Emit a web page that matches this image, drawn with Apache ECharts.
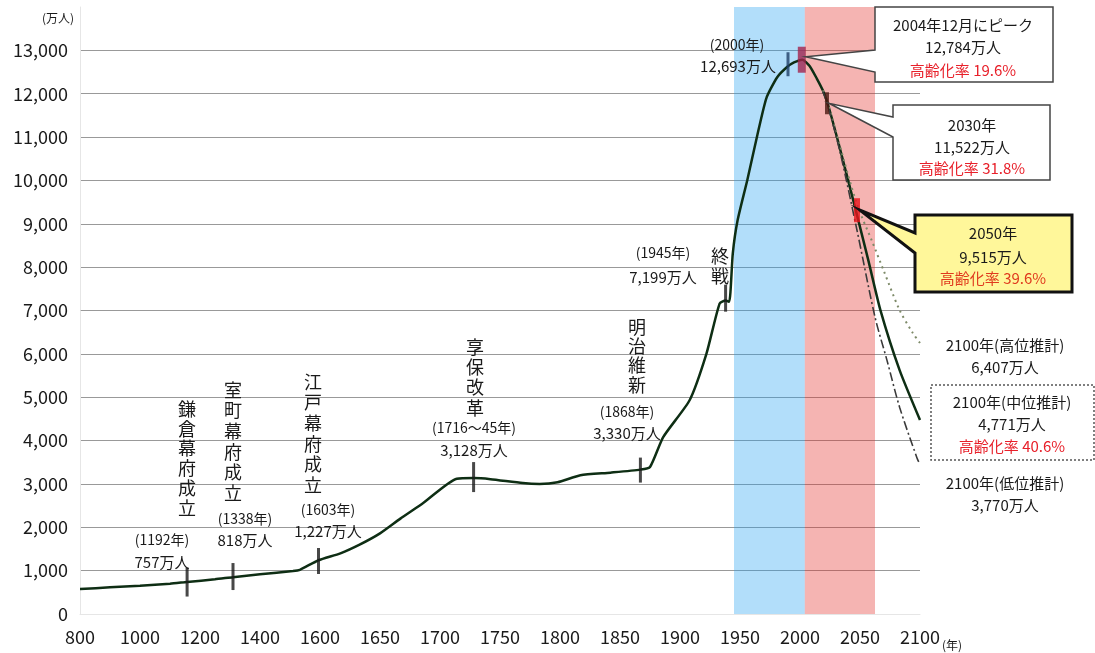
<!DOCTYPE html>
<html>
<head>
<meta charset="utf-8">
<script src="https://cdn.jsdelivr.net/npm/echarts@6/dist/echarts.min.js"></script>
<style>
html, body { margin: 0; padding: 0; background: #fff; }
#main { width: 1095px; height: 653px; }
</style>
</head>
<body>
<div id="main"></div>
<script>
// x軸の目盛り（等間隔に並ぶが年の幅は不揃い）
var xTickYears = [800, 1000, 1200, 1400, 1600, 1650, 1700, 1750, 1800, 1850, 1900, 1950, 2000, 2050, 2100];

// 実績（万人）
var histYears  = [800, 900, 1000, 1100, 1157, 1250, 1310, 1400, 1510, 1533, 1595, 1617, 1633, 1650, 1667, 1686, 1714, 1728, 1742, 1769, 1783, 1798, 1817, 1842, 1867, 1875, 1886, 1908, 1922, 1933, 1938, 1941, 1944, 1948, 1956, 1964, 1972, 1981, 1989, 1995, 2002];
var histValues = [576, 615, 650, 700, 740, 800, 850, 915, 990, 1020, 1240, 1400, 1600, 1860, 2200, 2560, 3120, 3135, 3110, 3020, 3000, 3040, 3200, 3260, 3330, 3390, 4080, 4930, 6000, 7160, 7230, 7200, 8320, 9080, 10000, 10990, 11900, 12380, 12610, 12720, 12784];

// 将来推計（中位・高位・低位）
var midYears   = [2002, 2008, 2014, 2019, 2023, 2033, 2047.5, 2057, 2067, 2083, 2100];
var midValues  = [12784, 12640, 12350, 12078, 11780, 10765, 9200, 8150, 7008, 5624, 4472];
var highYears  = [2019, 2023, 2033, 2047.5, 2060, 2070, 2083, 2094, 2100];
var highValues = [12078, 11800, 10820, 9450, 8600, 7900, 7010, 6480, 6250];
var lowYears   = [2019, 2023, 2033, 2047.5, 2062.5, 2072.5, 2083, 2097.5, 2100];
var lowValues  = [12050, 11740, 10700, 8850, 6850, 5850, 4770, 3600, 3450];

// 節目の目印（図上の位置）
var markYears  = [1157, 1310, 1595, 1728, 1867, 1938, 1990, 2001.5, 2022.5, 2047.5];
var markValues = [737, 864, 1222, 3158, 3319, 7284, 12680, 12784, 11780, 9313];
var markColors = ['#1a1a1a', '#1a1a1a', '#1a1a1a', '#1a1a1a', '#1a1a1a', '#1a1a1a', '#1f3f66', '#a3234c', '#4a1a12', '#e8141c'];
var markSizes  = [[3, 29], [3, 27], [3, 26], [3, 30], [3, 25], [3, 27], [3, 24], [8, 26], [4, 22], [6, 24]];

// 背景の帯
var bandFrom   = [1945, 2004];
var bandTo     = [2004, 2062.5];
var bandColors = ['rgba(35,161,241,0.35)', 'rgba(226,41,35,0.35)'];

var FONT = '"Noto Sans CJK JP", "Noto Sans", sans-serif';

function yearToPos(y){
    for (var i = 0; i < xTickYears.length - 1; i++){
        if (y <= xTickYears[i + 1]){
            return i + (y - xTickYears[i]) / (xTickYears[i + 1] - xTickYears[i]);
        }
    }
    return xTickYears.length - 1;
}
function pairs(years, values){
    return years.map(function(y, i){ return [yearToPos(y), values[i]]; });
}
function fmt(v){
    return String(v).replace(/\B(?=(\d{3})+(?!\d))/g, ',');
}

var chart = echarts.init(document.getElementById('main'));

var option = {
    animation: false,
    backgroundColor: '#fff',
    grid: { left: 80, right: 175, top: 7, bottom: 39 },
    xAxis: {
        type: 'value',
        min: 0, max: 14, interval: 1,
        axisLine: { show: true, lineStyle: { color: '#e6e6e6' } },
        axisTick: { show: false },
        splitLine: { show: false },
        axisLabel: {
            margin: 14,
            color: '#1a1a1a',
            fontSize: 18,
            fontFamily: FONT,
            formatter: function(v){ return xTickYears[v]; }
        }
    },
    yAxis: {
        type: 'value',
        min: 0, max: 14000, interval: 1000,
        axisLine: { show: true, lineStyle: { color: '#e6e6e6' } },
        axisTick: { show: false },
        splitLine: {
            show: true, showMinLine: false, showMaxLine: false,
            lineStyle: { color: '#999', width: 1 }
        },
        axisLabel: {
            margin: 12,
            color: '#1a1a1a',
            fontSize: 18,
            fontFamily: FONT,
            formatter: function(v){ return v > 13000 ? '' : fmt(v); }
        }
    },
    series: [
        {
            name: '実績・中位推計',
            type: 'line',
            z: 2,
            symbol: 'none',
            smooth: 0.2,
            lineStyle: { color: '#0e2e14', width: 2.5 },
            data: pairs(histYears, histValues).concat(pairs(midYears, midValues).slice(1))
        },
        {
            name: '高位推計',
            type: 'line',
            z: 2,
            symbol: 'none',
            smooth: 0.3,
            lineStyle: { color: '#7d8a68', width: 2, type: [2, 4] },
            data: pairs(highYears, highValues)
        },
        {
            name: '低位推計',
            type: 'line',
            z: 2,
            symbol: 'none',
            smooth: 0.3,
            lineStyle: { color: '#3a3a3a', width: 1.6, type: [9, 3, 2, 3] },
            data: pairs(lowYears, lowValues)
        },
        {
            name: 'band',
            type: 'line',
            z: 3,
            silent: true,
            data: [],
            markArea: {
                silent: true,
                data: bandFrom.map(function(f, i){
                    return [
                        { xAxis: yearToPos(f), itemStyle: { color: bandColors[i] } },
                        { xAxis: yearToPos(bandTo[i]) }
                    ];
                })
            }
        },
        {
            name: 'marks',
            type: 'scatter',
            z: 4,
            symbol: 'rect',
            data: markYears.map(function(y, i){
                return {
                    value: [yearToPos(y), markValues[i]],
                    symbolSize: markSizes[i],
                    itemStyle: { color: markColors[i] }
                };
            })
        }
    ]
};
chart.setOption(option);

// ---- 注記 ----
function txt(x, y, s, size, color){
    return {
        type: 'text', z: 20, x: x, y: y,
        style: { text: s, fill: color || '#1a1a1a', font: size + 'px ' + FONT, textAlign: 'center', textVerticalAlign: 'middle' }
    };
}
function vtxt(x, yFirst, s, size, step){
    return {
        type: 'text', z: 20, x: x, y: yFirst - step / 2,
        style: { text: s.split('').join('\n'), fill: '#1a1a1a', font: size + 'px ' + FONT, lineHeight: step, textAlign: 'center', textVerticalAlign: 'top' }
    };
}
function callout(box, by1, by2, tip, style){
    var l = box[0], t = box[1], r = box[2], b = box[3];
    return {
        type: 'polygon', z: 15,
        shape: { points: [[l, t], [r, t], [r, b], [l, b], [l, by2], tip, [l, by1]] },
        style: style
    };
}
function markPx(i, dx, dy){
    var p = chart.convertToPixel({ gridIndex: 0 }, [yearToPos(markYears[i]), markValues[i]]);
    return [p[0] + dx, p[1] + dy];
}

var RED = '#e8202a';
var g = [
    txt(58, 18, '(万人)', 12),
    txt(952, 645, '(年)', 12),

    txt(162, 540, '(1192年)', 14), txt(162, 562, '757万人', 15),
    vtxt(187, 409, '鎌倉幕府成立', 18, 19.8),
    txt(245, 519, '(1338年)', 14), txt(245, 540, '818万人', 15),
    vtxt(233, 390, '室町幕府成立', 18, 20.6),
    txt(328, 510, '(1603年)', 14), txt(328, 531, '1,227万人', 15),
    vtxt(313, 382, '江戸幕府成立', 18, 20.6),
    vtxt(475, 347, '享保改革', 18, 20.3),
    txt(474, 428, '(1716～45年)', 14), txt(474, 450, '3,128万人', 15),
    vtxt(637, 327, '明治維新', 18, 19.3),
    txt(627, 412, '(1868年)', 14), txt(627, 433, '3,330万人', 15),
    txt(663, 253, '(1945年)', 14), txt(663, 277, '7,199万人', 15),
    vtxt(720, 256, '終戦', 18, 20),
    txt(737, 45, '(2000年)', 14), txt(738, 66, '12,693万人', 15),

    callout([875, 7, 1053, 82], 50, 72, markPx(7, 4, -3), { fill: '#fff', stroke: '#444', lineWidth: 1.5 }),
    txt(963, 25, '2004年12月にピーク', 15), txt(963, 47, '12,784万人', 15), txt(963, 70, '高齢化率 19.6%', 15, RED),

    callout([893, 105, 1050, 180], 117, 137, markPx(8, 2, 0), { fill: '#fff', stroke: '#444', lineWidth: 1.5 }),
    txt(972, 125, '2030年', 15), txt(972, 147, '11,522万人', 15), txt(972, 168, '高齢化率 31.8%', 15, RED),

    callout([915, 215, 1072, 292], 233, 253, markPx(9, 3, 0), { fill: '#fff79a', stroke: '#111', lineWidth: 3, lineJoin: 'miter' }),
    txt(993, 233, '2050年', 15), txt(993, 257, '9,515万人', 15), txt(993, 278, '高齢化率 39.6%', 15, '#e03a1e'),

    txt(1005, 345, '2100年(高位推計)', 15), txt(1005, 367, '6,407万人', 15),
    { type: 'rect', z: 15, shape: { x: 931, y: 385, width: 163, height: 75 }, style: { fill: '#fff', stroke: '#555', lineWidth: 1.5, lineDash: [2, 2] } },
    txt(1012, 402, '2100年(中位推計)', 15), txt(1012, 424, '4,771万人', 15), txt(1012, 446, '高齢化率 40.6%', 15, RED),
    txt(1005, 483, '2100年(低位推計)', 15), txt(1005, 505, '3,770万人', 15)
];
chart.setOption({ graphic: g });
</script>
</body>
</html>
